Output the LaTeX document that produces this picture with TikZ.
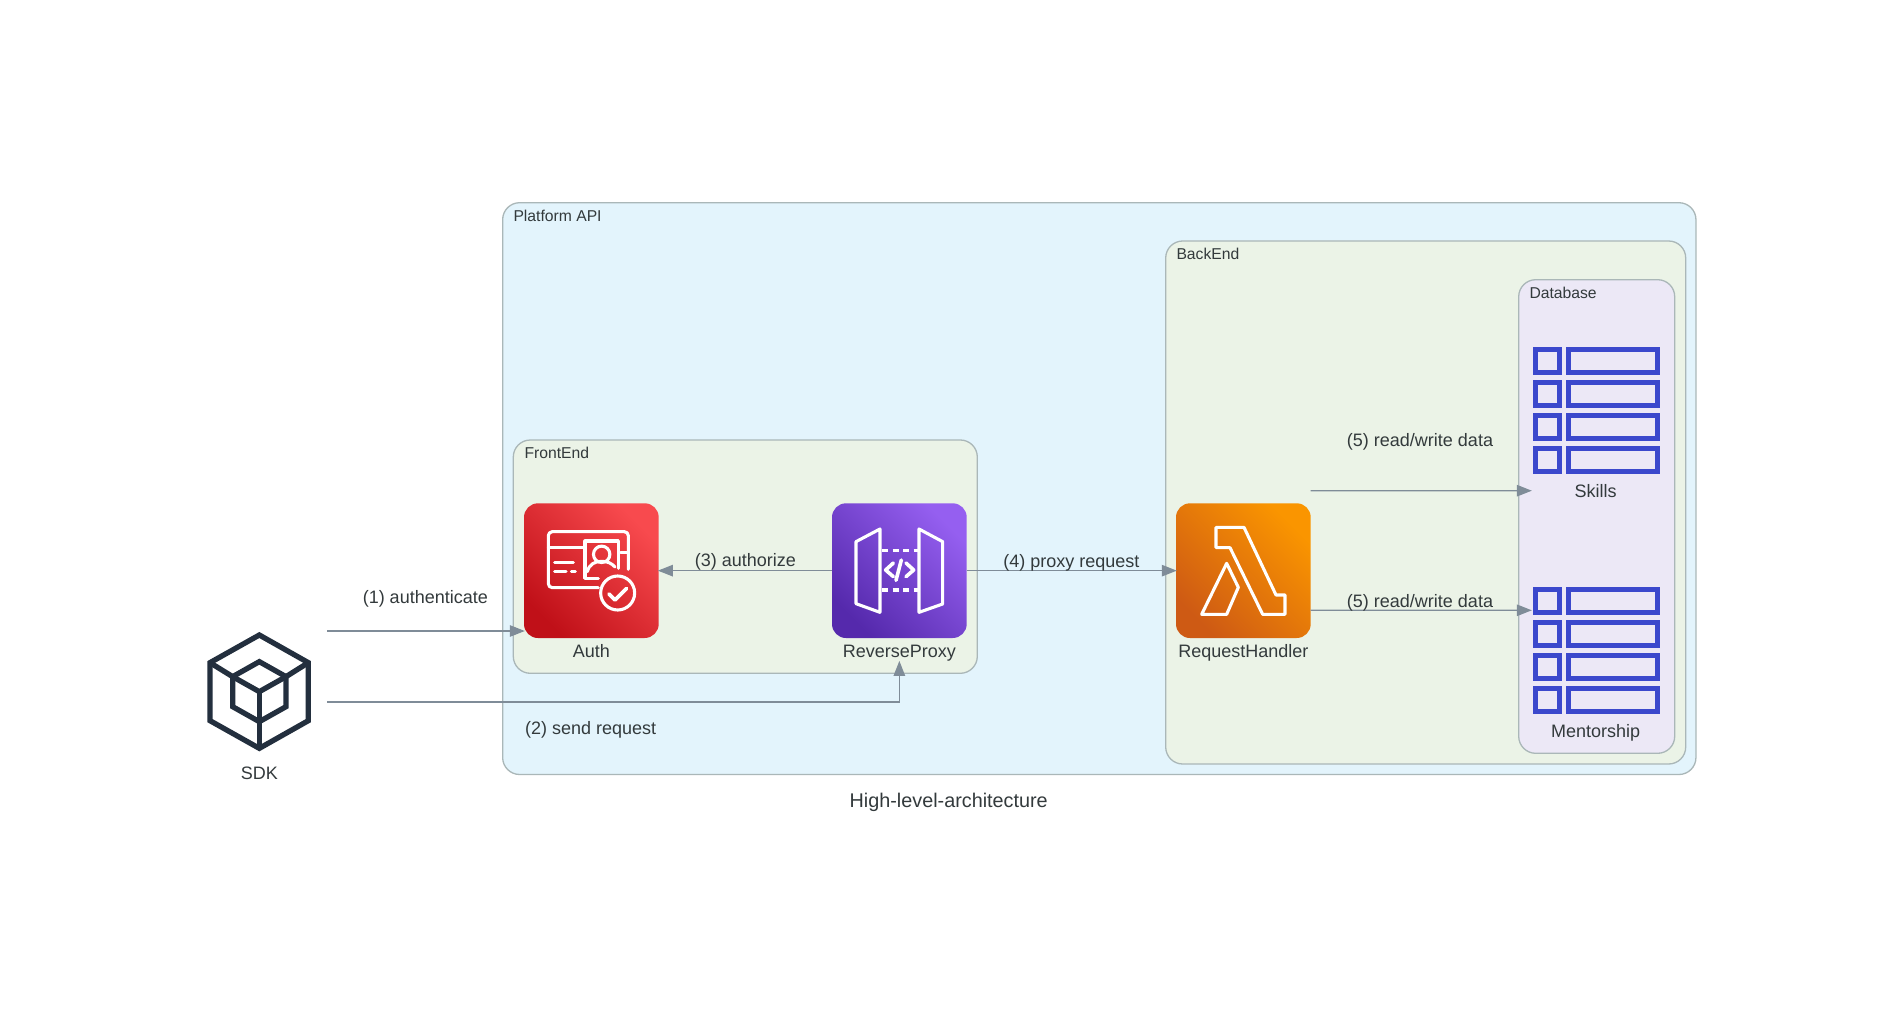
\documentclass[tikz,border=0pt]{standalone}
\usepackage{fontspec}
\setmainfont{Liberation Sans}
\usetikzlibrary{arrows.meta}
\definecolor{txt}{HTML}{333A3C}
\definecolor{bord}{HTML}{AAB7B8}
\definecolor{edgec}{HTML}{7F8C98}
\definecolor{platf}{HTML}{E3F4FC}
\definecolor{greenf}{HTML}{EBF3E7}
\definecolor{dbf}{HTML}{ECE8F6}
\definecolor{ink}{HTML}{232F3E}
\definecolor{tabl}{HTML}{3B48CC}
\definecolor{redlo}{HTML}{C01018}
\definecolor{redhi}{HTML}{F84A4E}
\definecolor{purlo}{HTML}{5529AC}
\definecolor{purhi}{HTML}{955FF0}
\definecolor{orglo}{HTML}{CE5A14}
\definecolor{orghi}{HTML}{FA9500}
\tikzset{
  cluster/.style={draw=bord,line width=1.3pt,rounded corners=17pt,inner sep=0pt,outer sep=0pt},
  clabel/.style={text=txt,font=\fontsize{15.7}{18}\selectfont,anchor=base west,inner sep=0pt},
  nlabel/.style={text=txt,font=\fontsize{18}{20}\selectfont,anchor=base,inner sep=0pt},
  icon/.style={rounded corners=14pt,minimum width=134.7pt,minimum height=134.7pt,inner sep=0pt,outer sep=0pt},
  boxnode/.style={minimum width=135pt,minimum height=135pt,inner sep=0pt,outer sep=0pt},
  conn/.style={draw=edgec,line width=1.2pt,shorten >=-0.8pt,-{Triangle[length=15pt,width=11.5pt,fill=edgec]}},
  wl/.style={draw=white,line width=3.1pt,line join=round,line cap=round},
  tb/.style={draw=tabl,line width=5pt,line join=miter},
  sdkl/.style={draw=ink,line width=5.3pt,line join=miter},
}
\newcommand{\tableicon}[1]{%
  \begin{scope}[shift={(#1)},x=1pt,y=-1pt]
    \foreach \r in {0,32.9,65.8,98.7}{
      \draw[tb] (2.5,2.5+\r) rectangle (25.8,25.6+\r);
      \draw[tb] (35.2,2.5+\r) rectangle (124.2,25.6+\r);
    }
  \end{scope}}
\begin{document}
\begin{tikzpicture}[x=1pt,y=-1pt]
\useasboundingbox (0,0) rectangle (1899,1011);
\fill[white] (0,0) rectangle (1899,1011);

% clusters
\node[cluster,fill=platf,minimum width=1193.3pt,minimum height=571.8pt] (platform) at (1099.3,488.6) {};
\node[cluster,fill=greenf,minimum width=464pt,minimum height=233.3pt] (frontend) at (745.3,556.65) {};
\node[cluster,fill=greenf,minimum width=520pt,minimum height=523pt] (backend) at (1425.7,502.5) {};
\node[cluster,fill=dbf,minimum width=156pt,minimum height=473.6pt] (database) at (1596.7,516.5) {};
\node[clabel] (lplatform) at (513.3,221.5) {Platform API};
\node[clabel] (lfrontend) at (524.3,458.3) {FrontEnd};
\node[clabel] (lbackend) at (1176.3,259.5) {BackEnd};
\node[clabel] (ldatabase) at (1529.3,298.3) {Database};

% icon nodes
\node[icon,bottom color=redlo,top color=redhi,shading angle=-45] (auth) at (591.35,570.65) {};
\node[icon,bottom color=purlo,top color=purhi,shading angle=-45] (proxy) at (899.35,570.65) {};
\node[icon,bottom color=orglo,top color=orghi,shading angle=-45] (handler) at (1243.35,570.65) {};
\node[boxnode] (sdk) at (259.5,692) {};
\node[boxnode] (skills) at (1596.7,410.7) {};
\node[boxnode] (mentor) at (1596.7,650.7) {};

% auth icon
\begin{scope}[shift={(180,440)},x=1/3*1pt,y=-1/3*1pt]
  \draw[wl,rounded corners=4pt] (1345,388) -- (1345,275) -- (1105,275) -- (1105,443) -- (1255,443);
  \draw[wl] (1105,322) -- (1212,322);
  \draw[wl] (1322,337) -- (1345,337);
  \draw[wl] (1255,415) -- (1215,415) -- (1215,303) -- (1315,303) -- (1315,385);
  \draw[wl] (1265,343) circle[radius=8.2pt];
  \draw[wl] (1222,395) .. controls (1228,372) and (1245,364) .. (1265,364) .. controls (1283,364) and (1295,370) .. (1305,381);
  \draw[wl] (1124,368) -- (1180,368);
  \draw[wl] (1124,395) -- (1158,395);
  \draw[wl] (1174,395) -- (1186,395);
  \draw[wl] (1313,459) circle[radius=17pt];
  \draw[wl,line width=3.6pt] (1287,462) -- (1305,480) -- (1340,445);
\end{scope}

% proxy icon
\begin{scope}[shift={(800,480)},x=1/3*1pt,y=-1/3*1pt]
  \draw[wl] (168,185) -- (240,147) -- (240,397) -- (168,371) -- cycle;
  \draw[wl] (357,147) -- (428,185) -- (428,372) -- (357,397) -- cycle;
  \draw[wl,line cap=butt,dash pattern=on 6pt off 4.5pt] (246,212) -- (354,212);
  \draw[wl,line cap=butt,dash pattern=on 6pt off 4.5pt] (246,330) -- (354,330);
  \draw[wl,line width=3.6pt] (280,249) -- (257,270) -- (280,290);
  \draw[wl,line width=3.6pt] (318,249) -- (341,270) -- (318,290);
  \draw[wl,line width=3.6pt] (304,240) -- (288,301);
\end{scope}

% lambda icon
\begin{scope}[shift={(800,480)},x=1/3*1pt,y=-1/3*1pt]
  \draw[wl] (1248,142) -- (1332,142) -- (1428,345) -- (1455,345) -- (1455,403) -- (1388,403) -- (1290,203) -- (1248,203) -- cycle;
  \draw[wl] (1280,250) -- (1315,322) -- (1280,403) -- (1205,403) -- cycle;
\end{scope}

% sdk icon
\begin{scope}[shift={(180,440)},x=1/3*1pt,y=-1/3*1pt]
  \draw[sdkl] (238,585) -- (385,668) -- (385,842) -- (238,925) -- (90,842) -- (90,668) -- cycle;
  \draw[sdkl] (238,665) -- (318,710) -- (318,800) -- (238,845) -- (158,800) -- (158,710) -- cycle;
  \draw[sdkl] (158,710) -- (238,755) -- (318,710);
  \draw[sdkl] (238,755) -- (238,925);
  \draw[sdkl] (90,668) -- (158,710);
  \draw[sdkl] (385,668) -- (318,710);
\end{scope}

% table icons
\tableicon{1533.3,347.3}
\tableicon{1533.3,587.3}

% node labels
\node[nlabel] (tauth) at (591.3,657.5) {Auth};
\node[nlabel] (tproxy) at (899.3,657.5) {ReverseProxy};
\node[nlabel] (thandler) at (1243.3,657.5) {RequestHandler};
\node[nlabel] (tsdk) at (259.3,779) {SDK};
\node[nlabel] (tskills) at (1595.7,497) {Skills};
\node[nlabel] (tmentor) at (1595.7,737.3) {Mentorship};

% connectors
\coordinate (proxyin) at (899.35,661.7);
\draw[conn] ([yshift=61pt]sdk.east) -- ([yshift=-60.35pt]auth.west);
\draw[conn] ([yshift=-10pt]sdk.east) -| (proxyin);
\draw[conn] (proxy.west) -- (auth.east);
\draw[conn] (proxy.east) -- (handler.west);
\draw[conn] ([yshift=80pt]handler.east) -- ([xshift=1.8pt,yshift=-80pt]skills.west);
\draw[conn] ([yshift=-39.65pt]handler.east) -- ([xshift=1.8pt,yshift=40.4pt]mentor.west);

% edge labels
\node[nlabel] (e1) at (425.3,603.3) {(1) authenticate};
\node[nlabel] (e2) at (590.7,734.7) {(2) send request};
\node[nlabel] (e3) at (745.3,566.7) {(3) authorize};
\node[nlabel] (e4) at (1071.3,567) {(4) proxy request};
\node[nlabel] (e5a) at (1420,446) {(5) read/write data};
\node[nlabel] (e5b) at (1420,607.3) {(5) read/write data};
\node[text=txt,font=\fontsize{19.8}{22}\selectfont,anchor=base,inner sep=0pt] (title) at (948.7,807.5) {High-level-architecture};
\end{tikzpicture}
\end{document}
